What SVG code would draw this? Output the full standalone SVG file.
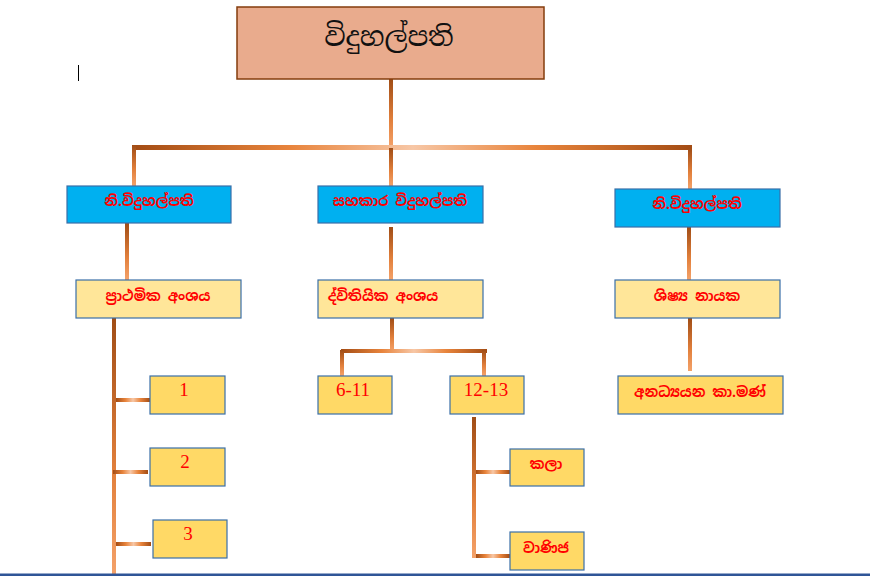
<svg xmlns="http://www.w3.org/2000/svg" width="870" height="576" viewBox="0 0 870 576">
<defs>
<linearGradient id="gv" x1="0" y1="0" x2="0" y2="1">
<stop offset="0" stop-color="#a04d16"/>
<stop offset="0.6" stop-color="#e2803c"/>
<stop offset="1" stop-color="#f4a26a"/>
</linearGradient>
<linearGradient id="gh" x1="0" y1="0" x2="1" y2="0">
<stop offset="0" stop-color="#a34c14"/>
<stop offset="0.28" stop-color="#e8843c"/>
<stop offset="0.5" stop-color="#f7c7a6"/>
<stop offset="0.72" stop-color="#e8843c"/>
<stop offset="1" stop-color="#a34c14"/>
</linearGradient>
<style>
.bx{stroke:#3a6fa8;stroke-width:1.2}
.blue{fill:#00b0f0}
.lt{fill:#ffe699}
.dk{fill:#ffd966}
.si{font-family:"Noto Sans Sinhala","Noto Serif Sinhala","Noto Sans",sans-serif;font-size:14px;font-weight:bold;fill:#ff0000;text-anchor:middle}
.num{font-family:"Liberation Serif",serif;font-size:19px;fill:#ff0000;text-anchor:middle}
.cv{fill:url(#gv)}
.ch{fill:url(#gh)}
</style>
</defs>
<g id="connectors">
<rect class="cv" x="389" y="79" width="4" height="69"/>
<rect class="ch" x="134" y="145" width="558" height="5"/>
<rect class="cv" x="132" y="145" width="4" height="41"/>
<rect class="cv" x="389" y="148" width="4" height="38"/>
<rect class="cv" x="688" y="148" width="4" height="41"/>
<rect class="cv" x="125" y="223" width="4" height="57"/>
<rect class="cv" x="389" y="227" width="4" height="53"/>
<rect class="cv" x="687" y="227" width="4" height="53"/>
<rect class="cv" x="688" y="318" width="4" height="53"/>
<rect class="cv" x="112" y="318" width="4" height="258"/>
<rect class="ch" x="116" y="398" width="34" height="4"/>
<rect class="ch" x="113" y="470" width="35" height="4"/>
<rect class="ch" x="116" y="542" width="35" height="4"/>
<rect class="cv" x="390" y="318" width="4" height="33"/>
<rect class="ch" x="341" y="349" width="146" height="4"/>
<rect class="cv" x="340" y="350" width="4" height="26"/>
<rect class="cv" x="482" y="350" width="4" height="26"/>
<rect class="cv" x="472" y="417" width="4" height="141"/>
<rect class="ch" x="476" y="470" width="34" height="4"/>
<rect class="ch" x="476" y="554" width="34" height="4"/>
</g>
<g id="n-root">
<rect x="237" y="7" width="307" height="72" fill="#e9ab8d" stroke="#843c0c" stroke-width="1.5"/>
<text x="389" y="46" font-family="Noto Serif Sinhala,Noto Sans Sinhala,Noto Sans,serif" font-size="27" fill="#111" text-anchor="middle">විදුහල්පති</text>
</g>
<g id="n-dp1">
<rect class="bx blue" x="67" y="186" width="164" height="37"/>
<text class="si" x="149" y="206">නි.විදුහල්පති</text>
</g>
<g id="n-asst">
<rect class="bx blue" x="318" y="186" width="165" height="37"/>
<text class="si" x="400" y="206">සහකාර විදුහල්පති</text>
</g>
<g id="n-dp2">
<rect class="bx blue" x="615" y="189" width="165" height="38"/>
<text class="si" x="697" y="209">නි.විදුහල්පති</text>
</g>
<g id="n-prim">
<rect class="bx lt" x="76" y="280" width="165" height="38"/>
<text class="si" x="158" y="301">ප්‍රාථමික අංශය</text>
</g>
<g id="n-sec">
<rect class="bx lt" x="318" y="280" width="165" height="38"/>
<text class="si" x="383" y="301">ද්විතියික අංශය</text>
</g>
<g id="n-pref">
<rect class="bx lt" x="615" y="280" width="165" height="38"/>
<text class="si" x="697" y="301">ශිෂ්‍ය නායක</text>
</g>
<g id="n-nonacad">
<rect class="bx dk" x="618" y="376" width="165" height="38"/>
<text class="si" x="700" y="397">අනධ්‍යයන කා.මණ්</text>
</g>
<g id="n-1">
<rect class="bx dk" x="150" y="376" width="75" height="38"/>
<text class="num" x="184" y="396">1</text>
</g>
<g id="n-2">
<rect class="bx dk" x="150" y="448" width="75" height="38"/>
<text class="num" x="185" y="468">2</text>
</g>
<g id="n-3">
<rect class="bx dk" x="153" y="520" width="74" height="38"/>
<text class="num" x="188" y="540">3</text>
</g>
<g id="n-611">
<rect class="bx dk" x="318" y="376" width="74" height="38"/>
<text class="num" x="353" y="396">6-11</text>
</g>
<g id="n-1213">
<rect class="bx dk" x="450" y="376" width="74" height="38"/>
<text class="num" x="486" y="396">12-13</text>
</g>
<g id="n-arts">
<rect class="bx dk" x="510" y="449" width="74" height="37"/>
<text class="si" x="546" y="469">කලා</text>
</g>
<g id="n-comm">
<rect class="bx dk" x="510" y="532" width="74" height="38"/>
<text class="si" x="546" y="553">වාණිජ</text>
</g>
<line x1="78.5" y1="65" x2="78.5" y2="81" stroke="#000" stroke-width="1"/>
<rect x="0" y="573.5" width="870" height="2.5" fill="#2f5597"/>
</svg>
